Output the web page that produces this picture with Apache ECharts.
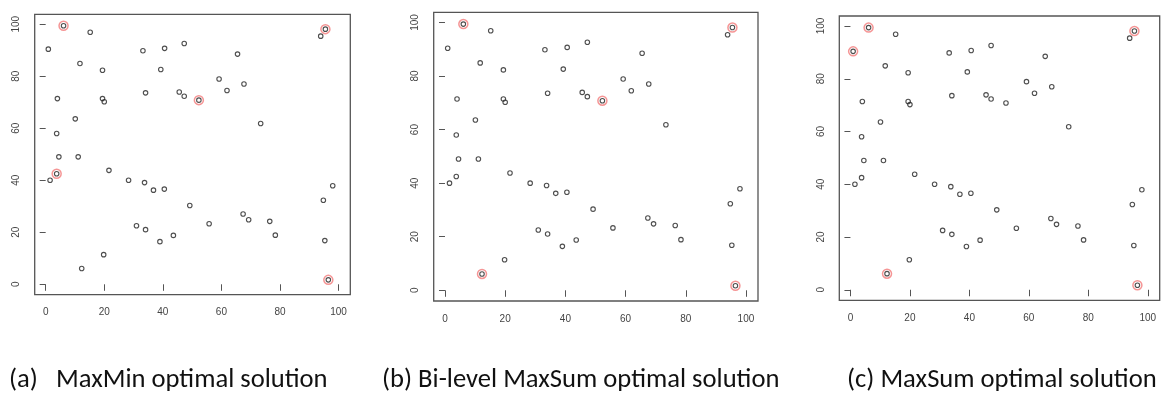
<!DOCTYPE html>
<html>
<head>
<meta charset="utf-8">
<script src="https://cdn.jsdelivr.net/npm/echarts@6/dist/echarts.min.js"></script>
<style>
  html, body { margin: 0; padding: 0; background: #fff; }
  #chart { width: 1161px; height: 395px; }
</style>
</head>
<body>
<div id="chart"></div>
<script>
// 50 candidate points (same set in all three panels)
const pointX = [6.1, 15.2, 0.9, 33.2, 40.6, 11.7, 19.4, 39.3, 4.0, 19.4,
  20.0, 34.1, 45.6, 10.1, 3.75, 4.5, 11.1, 3.75, 1.5, 21.6,
  28.3, 33.75, 36.8, 40.5, 31.0, 34.1, 39.0, 43.6, 19.8, 12.3,
  47.3, 65.5, 59.2, 61.9, 67.7, 47.3, 52.3, 73.4, 95.5, 93.9,
  98.0, 94.8, 49.2, 55.8, 67.4, 69.3, 76.5, 78.4, 95.3, 96.5];
const pointY = [99.4, 96.9, 90.4, 89.8, 90.7, 84.9, 82.3, 82.6, 71.4, 71.4,
  70.2, 73.6, 73.9, 63.6, 58.0, 49.0, 49.0, 42.5, 40.0, 43.8,
  40.0, 39.1, 36.2, 36.6, 22.5, 21.0, 16.4, 18.8, 11.4, 6.1,
  92.6, 88.5, 78.9, 74.5, 77.0, 72.3, 70.8, 61.8, 98.1, 95.4,
  37.9, 32.3, 30.3, 23.3, 27.0, 24.8, 24.2, 18.9, 16.8, 1.7];

// indices of the chosen points in each panel
const chosenMaxMin = [0, 17, 36, 38, 49];
const chosenBiLevel = [0, 29, 36, 38, 49];
const chosenMaxSum = [2, 0, 29, 38, 49];

const tickValues = [0, 20, 40, 60, 80, 100];
const captions = [
  '(a)   MaxMin optimal solution',
  '(b) Bi-level MaxSum optimal solution',
  '(c) MaxSum optimal solution',
];

const panels = [
  { chosen: chosenMaxMin, grid: { left: 34.7, top: 14.3, right: 810.7, bottom: 100.3 }, capLeft: 9 },
  { chosen: chosenBiLevel, grid: { left: 433.7, top: 12.3, right: 403, bottom: 94 }, capLeft: 382 },
  { chosen: chosenMaxSum, grid: { left: 839.3, top: 16, right: 1.3, bottom: 94.7 }, capLeft: 847 },
];

const boxColor = '#555';
const allPoints = pointX.map((x, i) => [x, pointY[i]]);

const option = {
  animation: false,
  backgroundColor: '#fff',
  title: panels.map((p, i) => ({
    text: captions[i],
    left: p.capLeft,
    top: 367,
    padding: 0,
    textStyle: {
      fontFamily: 'Carlito, "Liberation Sans Narrow", sans-serif',
      fontSize: 26.6,
      fontWeight: 'normal',
      color: '#111',
    },
  })),
  grid: panels.map((p) => ({
    ...p.grid,
    show: true,
    borderColor: boxColor,
    borderWidth: 1.3,
    backgroundColor: 'transparent',
  })),
  xAxis: panels.map((p, i) => ({
    type: 'value',
    gridIndex: i,
    min: -3.75,
    max: 104,
    splitLine: { show: false },
    axisLine: { show: false },
    axisTick: { show: true, length: 6.5, customValues: tickValues, lineStyle: { color: boxColor, width: 1 } },
    axisLabel: {
      customValues: tickValues,
      margin: 13,
      fontFamily: 'Liberation Sans, Arial, sans-serif',
      fontSize: 10,
      color: '#444',
    },
  })),
  yAxis: panels.map((p, i) => ({
    type: 'value',
    gridIndex: i,
    min: -4,
    max: 103.8,
    splitLine: { show: false },
    axisLine: { show: false },
    axisTick: { show: true, length: 6, customValues: tickValues, lineStyle: { color: boxColor, width: 1 } },
    axisLabel: {
      customValues: tickValues,
      rotate: 90,
      margin: 13,
      fontFamily: 'Liberation Sans, Arial, sans-serif',
      fontSize: 10,
      color: '#444',
    },
  })),
  series: panels.flatMap((p, i) => [
    {
      type: 'scatter',
      xAxisIndex: i,
      yAxisIndex: i,
      data: allPoints,
      symbol: 'circle',
      symbolSize: 4.5,
      itemStyle: { color: 'rgba(0,0,0,0)', borderColor: '#222', borderWidth: 1.1 },
      silent: true,
      z: 3,
    },
    {
      type: 'scatter',
      xAxisIndex: i,
      yAxisIndex: i,
      data: p.chosen.map((k) => allPoints[k]),
      symbol: 'circle',
      symbolSize: 9,
      itemStyle: { color: 'rgba(0,0,0,0)', borderColor: '#f27b7b', borderWidth: 1.5 },
      silent: true,
      z: 2,
    },
  ]),
};

const chart = echarts.init(document.getElementById('chart'));
chart.setOption(option);
</script>
</body>
</html>
